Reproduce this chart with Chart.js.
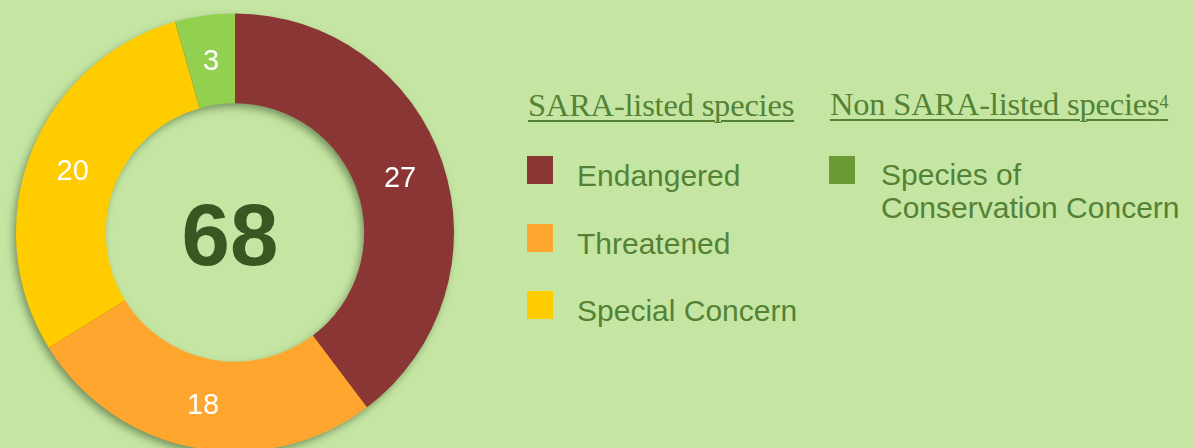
<!DOCTYPE html>
<html>
<head>
<meta charset="utf-8">
<script src="https://cdn.jsdelivr.net/npm/chart.js@4.4.1/dist/chart.umd.min.js"></script>
<style>
  html, body { margin:0; padding:0; width:1193px; height:448px; overflow:hidden; background:#c5e6a3; }
  #wrap { position:absolute; left:0; top:0; width:470px; height:465px; }
  .hdr { position:absolute; font-family:"Liberation Serif", "Times New Roman", serif; font-size:32.5px; line-height:31px; color:#548235;
         text-decoration:underline; text-decoration-thickness:2px; text-underline-offset:4px; white-space:nowrap; letter-spacing:-0.2px; }
  .hdr sup { font-size:18px; vertical-align:0; position:relative; top:-7px; }
  .item { position:absolute; font-family:"Liberation Sans", Arial, sans-serif; font-size:30px; line-height:33px; color:#548235; white-space:nowrap; }
  .sw { position:absolute; width:26px; height:28px; }
</style>
</head>
<body>
<div id="wrap"><canvas id="c"></canvas></div>
<div id="legend"></div>
<script>
// ---- data ----
const categories = ["Endangered", "Threatened", "Special Concern", "Species of Conservation Concern"];
const speciesCounts = [27, 18, 20, 3];
const sliceColors = ["#8a3634", "#ffa62f", "#ffcc00", "#92d050"];
const groupHeaders = ["SARA-listed species", "Non SARA-listed species"];
const headerFootnote = "4";
const legendGroups = [
  { header: 0, items: [0, 1, 2], swatch: ["#8a3634", "#ffa62f", "#ffcc00"] },
  { header: 1, items: [3], swatch: ["#6a9a34"] }
];

// ---- legend (HTML text) ----
const lg = document.getElementById('legend');
function add(html, cls, style) {
  const d = document.createElement('div'); d.className = cls; d.innerHTML = html;
  Object.assign(d.style, style); lg.appendChild(d); return d;
}
add(groupHeaders[0], 'hdr', { left: '528px', top: '90px' });
add(groupHeaders[1] + '<sup>' + headerFootnote + '</sup>', 'hdr', { left: '830px', top: '89px' });
const col1Tops = [159, 227, 294];
legendGroups[0].items.forEach((ci, k) => {
  add('', 'sw', { left: '527px', top: (col1Tops[k] - 3) + 'px', background: legendGroups[0].swatch[k] });
  add(categories[ci], 'item', { left: '577px', top: (col1Tops[k]) + 'px' });
});
add('', 'sw', { left: '829px', top: '156px', background: legendGroups[1].swatch[0] });
add('Species of<br>Conservation Concern', 'item', { left: '881px', top: '158px' });

// ---- plugins ----
const ringShadow = {
  id: 'ringShadow',
  beforeDatasetsDraw(chart) {
    const a = chart.getDatasetMeta(0).data[0];
    if (!a) return;
    const ctx = chart.ctx;
    ctx.save();
    ctx.shadowColor = 'rgba(30,50,20,0.5)';
    ctx.shadowBlur = 9;
    ctx.shadowOffsetX = -3;
    ctx.shadowOffsetY = 4;
    ctx.beginPath();
    ctx.arc(a.x, a.y, a.outerRadius - 1, 0, Math.PI * 2);
    ctx.arc(a.x, a.y, a.innerRadius + 1, Math.PI * 2, 0, true);
    ctx.closePath();
    ctx.fillStyle = '#8a3634';
    ctx.fill();
    ctx.restore();
  }
};
const labelsPlugin = {
  id: 'sliceLabels',
  afterDatasetsDraw(chart) {
    const ctx = chart.ctx;
    const meta = chart.getDatasetMeta(0);
    const vals = chart.data.datasets[0].data;
    ctx.save();
    ctx.fillStyle = '#ffffff';
    ctx.font = '29px "Liberation Sans", Arial, sans-serif';
    ctx.textAlign = 'center';
    ctx.textBaseline = 'middle';
    meta.data.forEach((arc, i) => {
      const p = arc.tooltipPosition();
      ctx.fillText(String(vals[i]), p.x, p.y + 2);
    });
    const a = meta.data[0];
    const total = vals.reduce((s, v) => s + v, 0);
    ctx.fillStyle = '#385723';
    ctx.font = 'bold 87px "Liberation Sans", Arial, sans-serif';
    ctx.fillText(String(total), a.x - 5, a.y + 9);
    ctx.restore();
  }
};

new Chart(document.getElementById('c'), {
  type: 'doughnut',
  data: {
    labels: categories,
    datasets: [{ data: speciesCounts, backgroundColor: sliceColors, borderWidth: 0, hoverOffset: 0 }]
  },
  options: {
    responsive: true,
    maintainAspectRatio: false,
    animation: false,
    cutout: '59%',
    layout: { padding: { top: 13, bottom: 13, left: 16, right: 16 } },
    plugins: { legend: { display: false }, tooltip: { enabled: false } },
    events: []
  },
  plugins: [ringShadow, labelsPlugin]
});
</script>
</body>
</html>
